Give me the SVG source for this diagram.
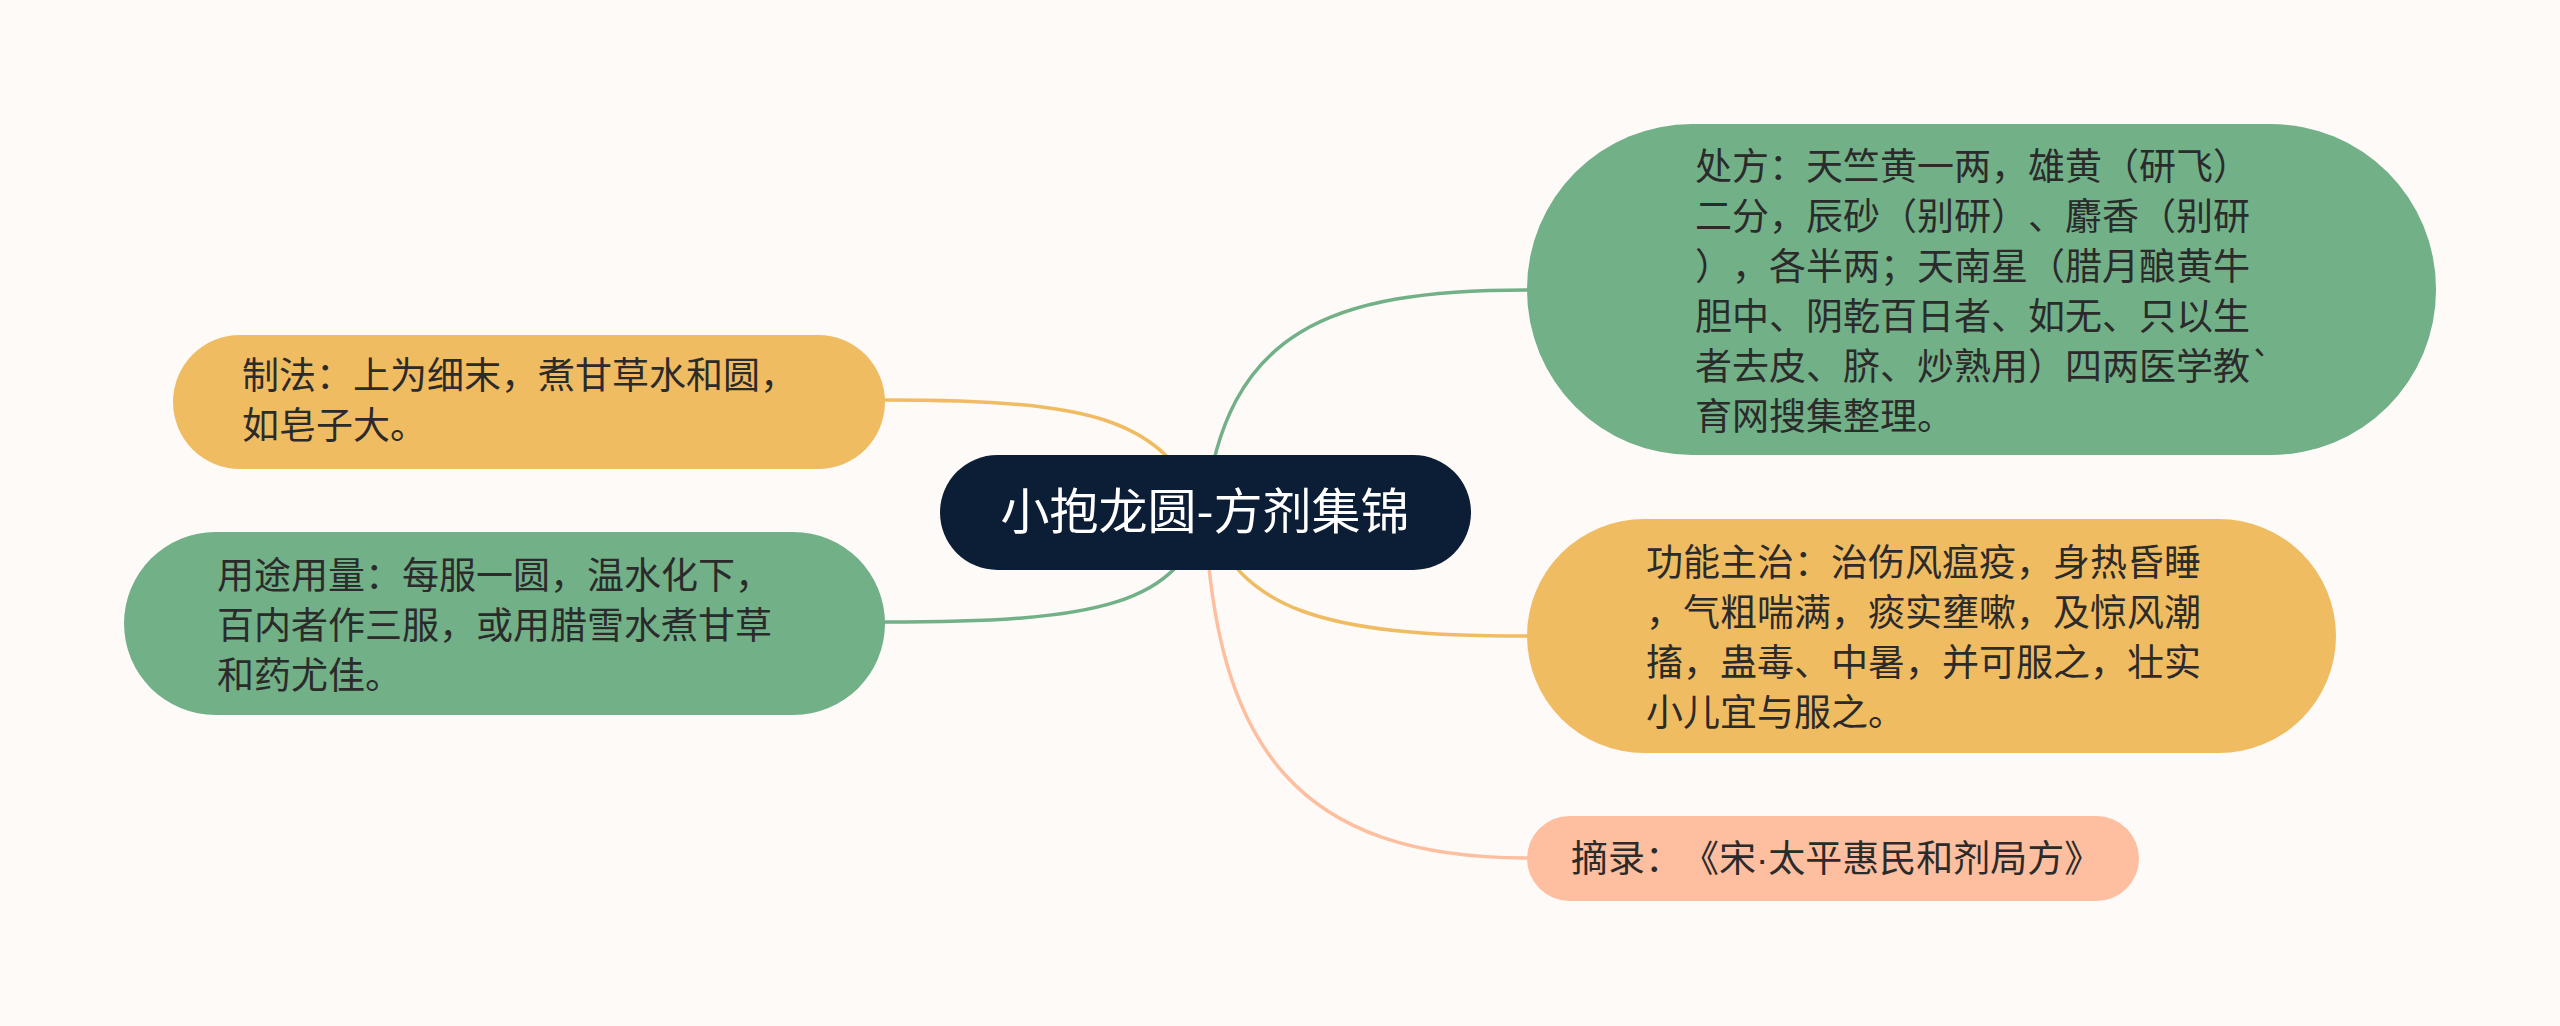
<svg xmlns="http://www.w3.org/2000/svg" width="2560" height="1026" viewBox="0 0 2560 1026">
<style>
text{text-spacing-trim:space-all;font-feature-settings:"halt" 0,"chws" 0,"palt" 0}
.t{font-family:"Noto Sans CJK SC","Noto Sans",sans-serif;font-size:37px;fill:#2b2b2b}
.c{font-family:"Noto Sans CJK SC","Noto Sans",sans-serif;font-size:49px;fill:#ffffff;text-anchor:middle}
.dot{font-family:"Liberation Sans",sans-serif}
.l{fill:none;stroke-width:3.5;stroke-linecap:round}
.g{fill:#72b088}
.y{fill:#f0bc62}
.p{fill:#fdbf9f}
</style>
<rect x="0" y="0" width="2560" height="1026" fill="#fefaf8"/>
<g id="connectors">
<path class="l" stroke="#72b088" d="M1205 512 C1225 330,1330 290,1527 290"/>
<path class="l" stroke="#f0bc62" d="M1205 512 C1160 420,1100 400,885 400"/>
<path class="l" stroke="#72b088" d="M1205 512 C1180 605,1100 622,885 622"/>
<path class="l" stroke="#f0bc62" d="M1205 512 C1240 610,1320 636,1527 636"/>
<path class="l" stroke="#fdbf9f" d="M1205 512 C1215 750,1300 858,1527 858"/>
</g>
<g id="center">
<rect x="940" y="455" width="531" height="115" rx="57.5" fill="#0c1d36"/>
<text class="c" x="1205" y="529">小抱龙圆-方剂集锦</text>
</g>
<g id="node-chufang">
<rect class="g" x="1527" y="124" width="909" height="331" rx="165"/>
<text class="t" x="1695" y="180">处方：天竺黄一两，雄黄（研飞）</text>
<text class="t" x="1695" y="230">二分，辰砂（别研）、麝香（别研</text>
<text class="t" x="1695" y="280">），各半两；天南星（腊月酿黄牛</text>
<text class="t" x="1695" y="330">胆中、阴乾百日者、如无、只以生</text>
<text class="t" x="1695" y="380">者去皮、脐、炒熟用）四两医学教`</text>
<text class="t" x="1695" y="430">育网搜集整理。</text>
</g>
<g id="node-gongneng">
<rect class="y" x="1527" y="519" width="809" height="234" rx="117"/>
<text class="t" x="1646" y="576">功能主治：治伤风瘟疫，身热昏睡</text>
<text class="t" x="1646" y="626">，气粗喘满，痰实壅嗽，及惊风潮</text>
<text class="t" x="1646" y="676">搐，蛊毒、中暑，并可服之，壮实</text>
<text class="t" x="1646" y="726">小儿宜与服之。</text>
</g>
<g id="node-zhailu">
<rect class="p" x="1527" y="816" width="612" height="85" rx="42.5"/>
<text class="t" x="1571" y="872">摘录：《宋<tspan class="dot">·</tspan>太平惠民和剂局方》</text>
</g>
<g id="node-zhifa">
<rect class="y" x="173" y="335" width="712" height="134" rx="67"/>
<text class="t" x="242" y="389">制法：上为细末，煮甘草水和圆，</text>
<text class="t" x="242" y="439">如皂子大。</text>
</g>
<g id="node-yongtu">
<rect class="g" x="124" y="532" width="761" height="183" rx="91.5"/>
<text class="t" x="217" y="589">用途用量：每服一圆，温水化下，</text>
<text class="t" x="217" y="639">百内者作三服，或用腊雪水煮甘草</text>
<text class="t" x="217" y="689">和药尤佳。</text>
</g>
</svg>
